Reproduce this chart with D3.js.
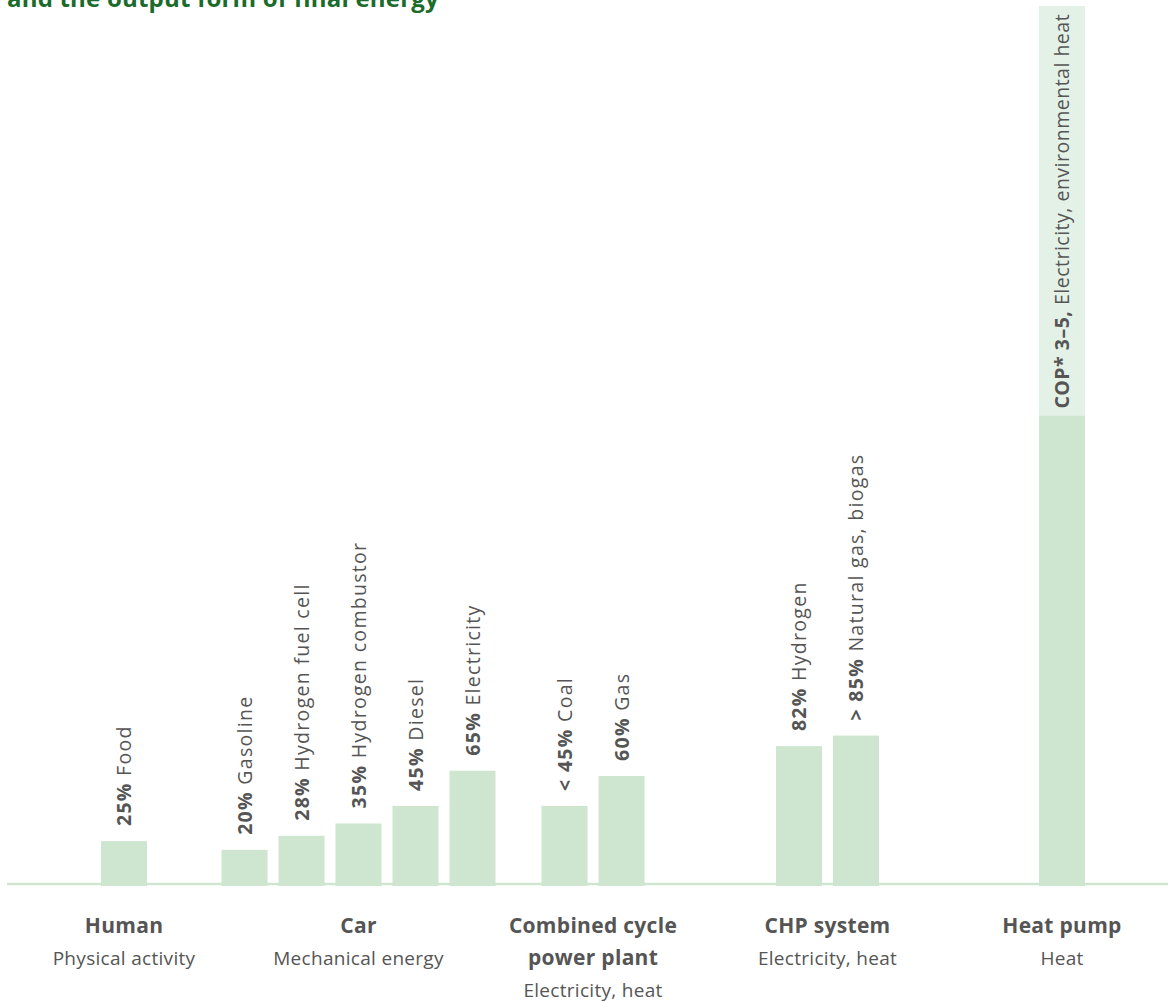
<!DOCTYPE html>
<html>
<head>
<meta charset="utf-8">
<script src="https://cdn.jsdelivr.net/npm/d3@7"></script>
<style>
  body { margin: 0; background: #fff; }
  svg { display: block; font-family: "Open Sans", "Noto Sans", sans-serif; }
</style>
</head>
<body>
<div id="chart"></div>
<script>
// Data
const title = "and the output form of final energy";
const groups = ["Human", "Car", "Combined cycle power plant", "CHP system", "Heat pump"];
const groupTitleLines = [["Human"], ["Car"], ["Combined cycle", "power plant"], ["CHP system"], ["Heat pump"]];
const groupSubtitles = ["Physical activity", "Mechanical energy", "Electricity, heat", "Electricity, heat", "Heat"];

const barGroups = ["Human", "Car", "Car", "Car", "Car", "Car",
  "Combined cycle power plant", "Combined cycle power plant", "CHP system", "CHP system", "Heat pump"];
const barValues = [25, 20, 28, 35, 45, 65, 45, 62, 79, 85, 267];
const barBold = ["25%", "20%", "28%", "35%", "45%", "65%", "< 45%", "60%", "82%", "> 85%", "COP* 3–5,"];
const barText = ["Food", "Gasoline", "Hydrogen fuel cell", "Hydrogen combustor", "Diesel", "Electricity",
  "Coal", "Gas", "Hydrogen", "Natural gas, biogas", "Electricity, environmental heat"];
// heat pump: COP range shown as light extension up to 500 %
const copMax = 500;

const width = 1168, height = 1003;
const baseY = 885;

const svg = d3.select("#chart")
  .append("svg")
  .attr("width", width)
  .attr("height", height);

// Scales
const x = d3.scaleBand()
  .domain(groups)
  .range([6.75, 1179.25]);

const y = d3.scaleLinear()
  .domain([0, 500])
  .range([baseY, 6]);

const step = 57, pad = 11;
const bars = barValues.map((v, i) => {
  const g = barGroups[i];
  const members = barGroups.map((d, j) => j).filter(j => barGroups[j] === g);
  const n = members.length;
  const c = x(g) + x.bandwidth() / 2;
  const inner = d3.scaleBand()
    .domain(members)
    .range([c - n * step / 2, c + n * step / 2])
    .paddingInner(pad / step)
    .paddingOuter(pad / 2 / step);
  return { i, g, value: v, x0: inner(i), w: inner.bandwidth(), cx: inner(i) + inner.bandwidth() / 2 };
});

// Title (cut off at top, as in the original)
svg.append("text")
  .attr("x", 7)
  .attr("y", 7)
  .attr("fill", "#1b6b2b")
  .attr("font-weight", 700)
  .attr("font-size", 24)
  .attr("letter-spacing", 0.2)
  .text(title);

// Heat pump COP extension
const hp = bars[bars.length - 1];
svg.append("rect")
  .attr("x", hp.x0)
  .attr("y", y(copMax))
  .attr("width", hp.w)
  .attr("height", y(hp.value) - y(copMax))
  .attr("fill", "#e4f1e6");

// Bars
svg.selectAll("rect.bar")
  .data(bars)
  .join("rect")
  .attr("class", "bar")
  .attr("x", d => d.x0)
  .attr("y", d => y(d.value))
  .attr("width", d => d.w)
  .attr("height", d => baseY + 1 - y(d.value))
  .attr("fill", "#cee6d0");

// Baseline
svg.append("line")
  .attr("x1", 7)
  .attr("x2", width)
  .attr("y1", baseY - 1)
  .attr("y2", baseY - 1)
  .attr("stroke", "#cee6d0")
  .attr("stroke-width", 2.5);

// Bar labels (rotated)
const labels = svg.selectAll("text.bar-label")
  .data(bars)
  .join("text")
  .attr("class", "bar-label")
  .attr("transform", d => {
    const gap = d.g === "Heat pump" ? 7 : 15;
    return `translate(${d.cx + 7},${y(d.value) - gap}) rotate(-90)`;
  })
  .attr("fill", "#555")
  .attr("font-size", 19.5)
  .attr("letter-spacing", d => d.g === "Heat pump" ? 0.5 : 1.3);

labels.append("tspan")
  .attr("font-weight", 700)
  .text(d => barBold[d.i] + " ");
labels.append("tspan")
  .text(d => barText[d.i]);

// Group labels
const gl = svg.selectAll("g.group-label")
  .data(groups)
  .join("g")
  .attr("class", "group-label")
  .attr("transform", d => `translate(${x(d) + x.bandwidth() / 2},0)`);

gl.each(function(d, gi) {
  const g = d3.select(this);
  const lines = groupTitleLines[gi];
  lines.forEach((t, li) => {
    g.append("text")
      .attr("y", 933 + li * 32)
      .attr("text-anchor", "middle")
      .attr("fill", "#555")
      .attr("font-weight", 700)
      .attr("font-size", 21)
      .attr("letter-spacing", 0.3)
      .text(t);
  });
  g.append("text")
    .attr("y", 933 + lines.length * 32)
    .attr("text-anchor", "middle")
    .attr("fill", "#555")
    .attr("font-size", 19)
    .attr("letter-spacing", 0.3)
    .text(groupSubtitles[gi]);
});
</script>
</body>
</html>
